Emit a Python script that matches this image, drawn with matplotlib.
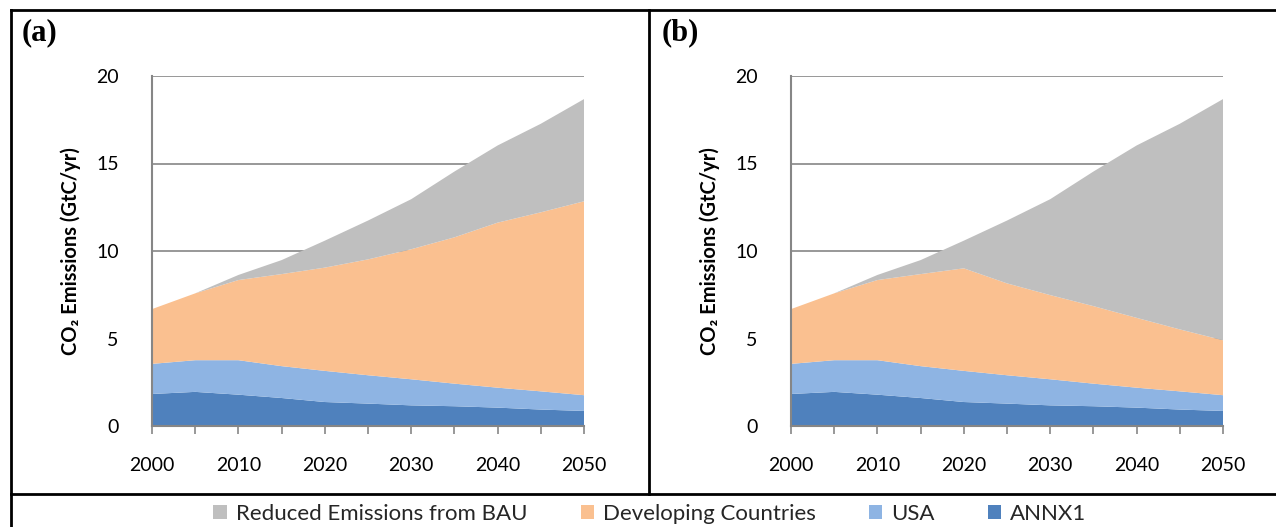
import numpy as np
import matplotlib
matplotlib.use('Agg')
import matplotlib.pyplot as plt
from matplotlib.lines import Line2D
from matplotlib.patches import Patch

# emissions by group, GtC/yr, every 5 years
years = [2000, 2005, 2010, 2015, 2020, 2025, 2030, 2035, 2040, 2045, 2050]
annx1 = [1.83, 1.95, 1.79, 1.60, 1.37, 1.28, 1.18, 1.13, 1.05, 0.94, 0.86]
usa = [1.72, 1.81, 1.97, 1.82, 1.78, 1.62, 1.49, 1.29, 1.14, 1.04, 0.90]
developing_a = [3.13, 3.82, 4.58, 5.26, 5.90, 6.62, 7.43, 8.36, 9.43, 10.23, 11.08]
reduced_a = [0.0, 0.0, 0.29, 0.80, 1.54, 2.22, 2.86, 3.76, 4.41, 5.06, 5.84]
developing_b = [3.13, 3.82, 4.58, 5.26, 5.86, 5.25, 4.81, 4.43, 3.99, 3.54, 3.14]
reduced_b = [0.0, 0.0, 0.29, 0.80, 1.58, 3.59, 5.48, 7.69, 9.85, 11.75, 13.78]

names = ['Reduced Emissions from BAU', 'Developing Countries', 'USA', 'ANNX1']
colors = ['#BFBFBF', '#FAC090', '#8EB4E3', '#4F81BD']

plt.rcParams['font.family'] = ['Lato', 'DejaVu Sans']

W, H = 1276, 527
fig = plt.figure(figsize=(W / 100, H / 100), dpi=100)

def fx(px):
    return px / W

def fy(py):
    return 1 - py / H

panels = [('(a)', 152, 22, developing_a, reduced_a),
          ('(b)', 791, 662, developing_b, reduced_b)]

for tag, left, tagx, dev, red in panels:
    ax = fig.add_axes([fx(left), fy(426), fx(432), (426 - 76) / H])
    ax.stackplot(years, annx1, usa, dev, red,
                 colors=colors[::-1], linewidth=0)
    ax.set_xlim(2000, 2050)
    ax.set_ylim(0, 20)
    ax.set_yticks([0, 5, 10, 15, 20])
    ax.set_xticks([2000, 2010, 2020, 2030, 2040, 2050])
    ax.set_xticks(np.arange(2000, 2051, 5), minor=True)
    ax.grid(axis='y', color='#868686', linewidth=1.2)
    ax.set_axisbelow(True)
    for s in ['top', 'right']:
        ax.spines[s].set_visible(False)
    for s in ['left', 'bottom']:
        ax.spines[s].set_color('#868686')
        ax.spines[s].set_linewidth(1.5)
    ax.tick_params(axis='y', length=0, pad=24, labelsize=14)
    ax.tick_params(axis='x', which='both', direction='out', length=6,
                   color='#868686', width=1.2, labelsize=14)
    ax.tick_params(axis='x', which='major', pad=16)
    ax.set_ylabel('CO₂ Emissions (GtC/yr)', fontsize=14.5, fontweight='bold',
                  labelpad=11)
    fig.text(fx(tagx), fy(33), tag, family='Liberation Serif',
             fontweight='bold', fontsize=22, va='center', ha='left')

# box lines around the panels
lw = 2.0
fig.add_artist(Line2D([fx(11), fx(11)], [0, fy(10)], color='black', lw=lw))
fig.add_artist(Line2D([fx(11), 1], [fy(10), fy(10)], color='black', lw=lw))
fig.add_artist(Line2D([fx(11), 1], [fy(494), fy(494)], color='black', lw=lw))
fig.add_artist(Line2D([fx(649), fx(649)], [fy(494), fy(10)], color='black', lw=lw))

handles = [Patch(facecolor=c, edgecolor='none') for c in colors]
fig.legend(handles, names, loc='center', bbox_to_anchor=(fx(650), fy(514)),
           ncol=4, frameon=False, fontsize=16, handlelength=0.6,
           handleheight=0.6, handletextpad=0.4, columnspacing=2.4,
           labelcolor='#262626')

fig.savefig('out.png', dpi=100)
